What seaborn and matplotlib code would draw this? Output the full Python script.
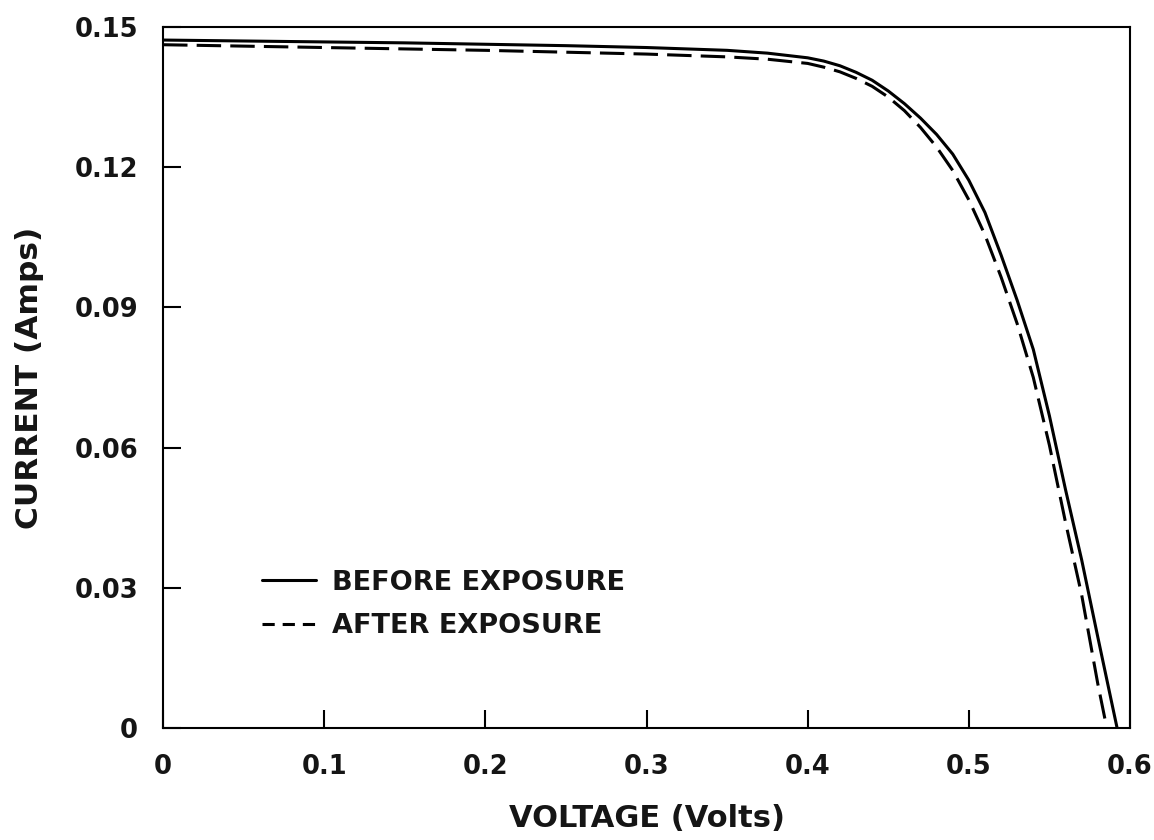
import matplotlib
matplotlib.use("Agg")
import matplotlib.pyplot as plt
from matplotlib.lines import Line2D
import pandas as pd
import seaborn as sns

# readings (volts, amps)
before_voltage = [0, 0.05, 0.1, 0.15, 0.2, 0.25, 0.3, 0.35, 0.375, 0.4, 0.41,
                  0.42, 0.43, 0.44, 0.45, 0.46, 0.47, 0.48, 0.49, 0.5, 0.51,
                  0.52, 0.53, 0.54, 0.55, 0.56, 0.57, 0.58, 0.592]
before_current = [0.1472, 0.1470, 0.1468, 0.1466, 0.1463, 0.1460, 0.1456,
                  0.1450, 0.1444, 0.1434, 0.1427, 0.1417, 0.1403, 0.1386,
                  0.1363, 0.1336, 0.1305, 0.1270, 0.1228, 0.1172, 0.1103,
                  0.1012, 0.0915, 0.0810, 0.0668, 0.0510, 0.0360, 0.0195, 0.0]

after_voltage = [0, 0.05, 0.1, 0.15, 0.2, 0.25, 0.3, 0.35, 0.375, 0.4, 0.41,
                 0.42, 0.43, 0.44, 0.45, 0.46, 0.47, 0.48, 0.49, 0.5, 0.51,
                 0.52, 0.53, 0.54, 0.55, 0.56, 0.57, 0.58, 0.5856]
after_current = [0.1462, 0.1459, 0.1456, 0.1453, 0.1450, 0.1446, 0.1442,
                 0.1436, 0.1431, 0.1422, 0.1414, 0.1404, 0.1390, 0.1373,
                 0.1350, 0.1321, 0.1285, 0.1243, 0.1193, 0.1130, 0.1055,
                 0.0965, 0.0865, 0.0750, 0.0605, 0.0440, 0.0285, 0.0095, 0.0]

series_names = ["BEFORE EXPOSURE", "AFTER EXPOSURE"]

x_ticks = [0, 0.1, 0.2, 0.3, 0.4, 0.5, 0.6]
x_tick_labels = ["0", "0.1", "0.2", "0.3", "0.4", "0.5", "0.6"]
y_ticks = [0, 0.03, 0.06, 0.09, 0.12, 0.15]
y_tick_labels = ["0", "0.03", "0.06", "0.09", "0.12", "0.15"]

df = pd.concat([
    pd.DataFrame({"voltage": before_voltage, "current": before_current,
                  "series": series_names[0]}),
    pd.DataFrame({"voltage": after_voltage, "current": after_current,
                  "series": series_names[1]}),
])

sns.set_style("ticks")
plt.rcParams["font.family"] = ["DejaVu Sans"]

fig = plt.figure(figsize=(11.54, 8.4), dpi=100)
ax = fig.add_axes([0.1413, 0.1333, 0.8379, 0.8346])

sns.lineplot(
    data=df, x="voltage", y="current", style="series",
    dashes={series_names[0]: "", series_names[1]: (8, 3)},
    color="black", linewidth=2.2, estimator=None, sort=False,
    legend=False, ax=ax
)

ax.set_xlim(0, 0.6)
ax.set_ylim(0, 0.15)
ax.set_xticks(x_ticks)
ax.set_xticklabels(x_tick_labels)
ax.set_yticks(y_ticks)
ax.set_yticklabels(y_tick_labels)

for side in ["left", "right", "top", "bottom"]:
    ax.spines[side].set_linewidth(1.5)
    ax.spines[side].set_color("black")

ax.tick_params(axis="both", direction="in", length=13, width=1.5,
               labelsize=18.5, colors="black")
ax.tick_params(axis="x", pad=19)
ax.tick_params(axis="y", pad=18)
for lbl in ax.get_xticklabels() + ax.get_yticklabels():
    lbl.set_fontweight("bold")
    lbl.set_color("#151515")

ax.set_xlabel("VOLTAGE (Volts)", fontsize=22, fontweight="bold",
              labelpad=17, color="#151515")
ax.set_ylabel("CURRENT (Amps)", fontsize=22.5, fontweight="bold",
              labelpad=22, color="#151515")

handles = [
    Line2D([], [], color="black", linewidth=2.2),
    Line2D([], [], color="black", linewidth=2.2, dashes=(4, 2.6)),
]
leg = ax.legend(handles, series_names, loc="center left",
                bbox_to_anchor=(0.102, 0.176), frameon=False,
                prop={"size": 19.5, "weight": "bold"},
                handlelength=2.0, handletextpad=0.6, labelspacing=0.65,
                borderpad=0, borderaxespad=0)
for t in leg.get_texts():
    t.set_color("#151515")

fig.savefig("out.png", dpi=100)
